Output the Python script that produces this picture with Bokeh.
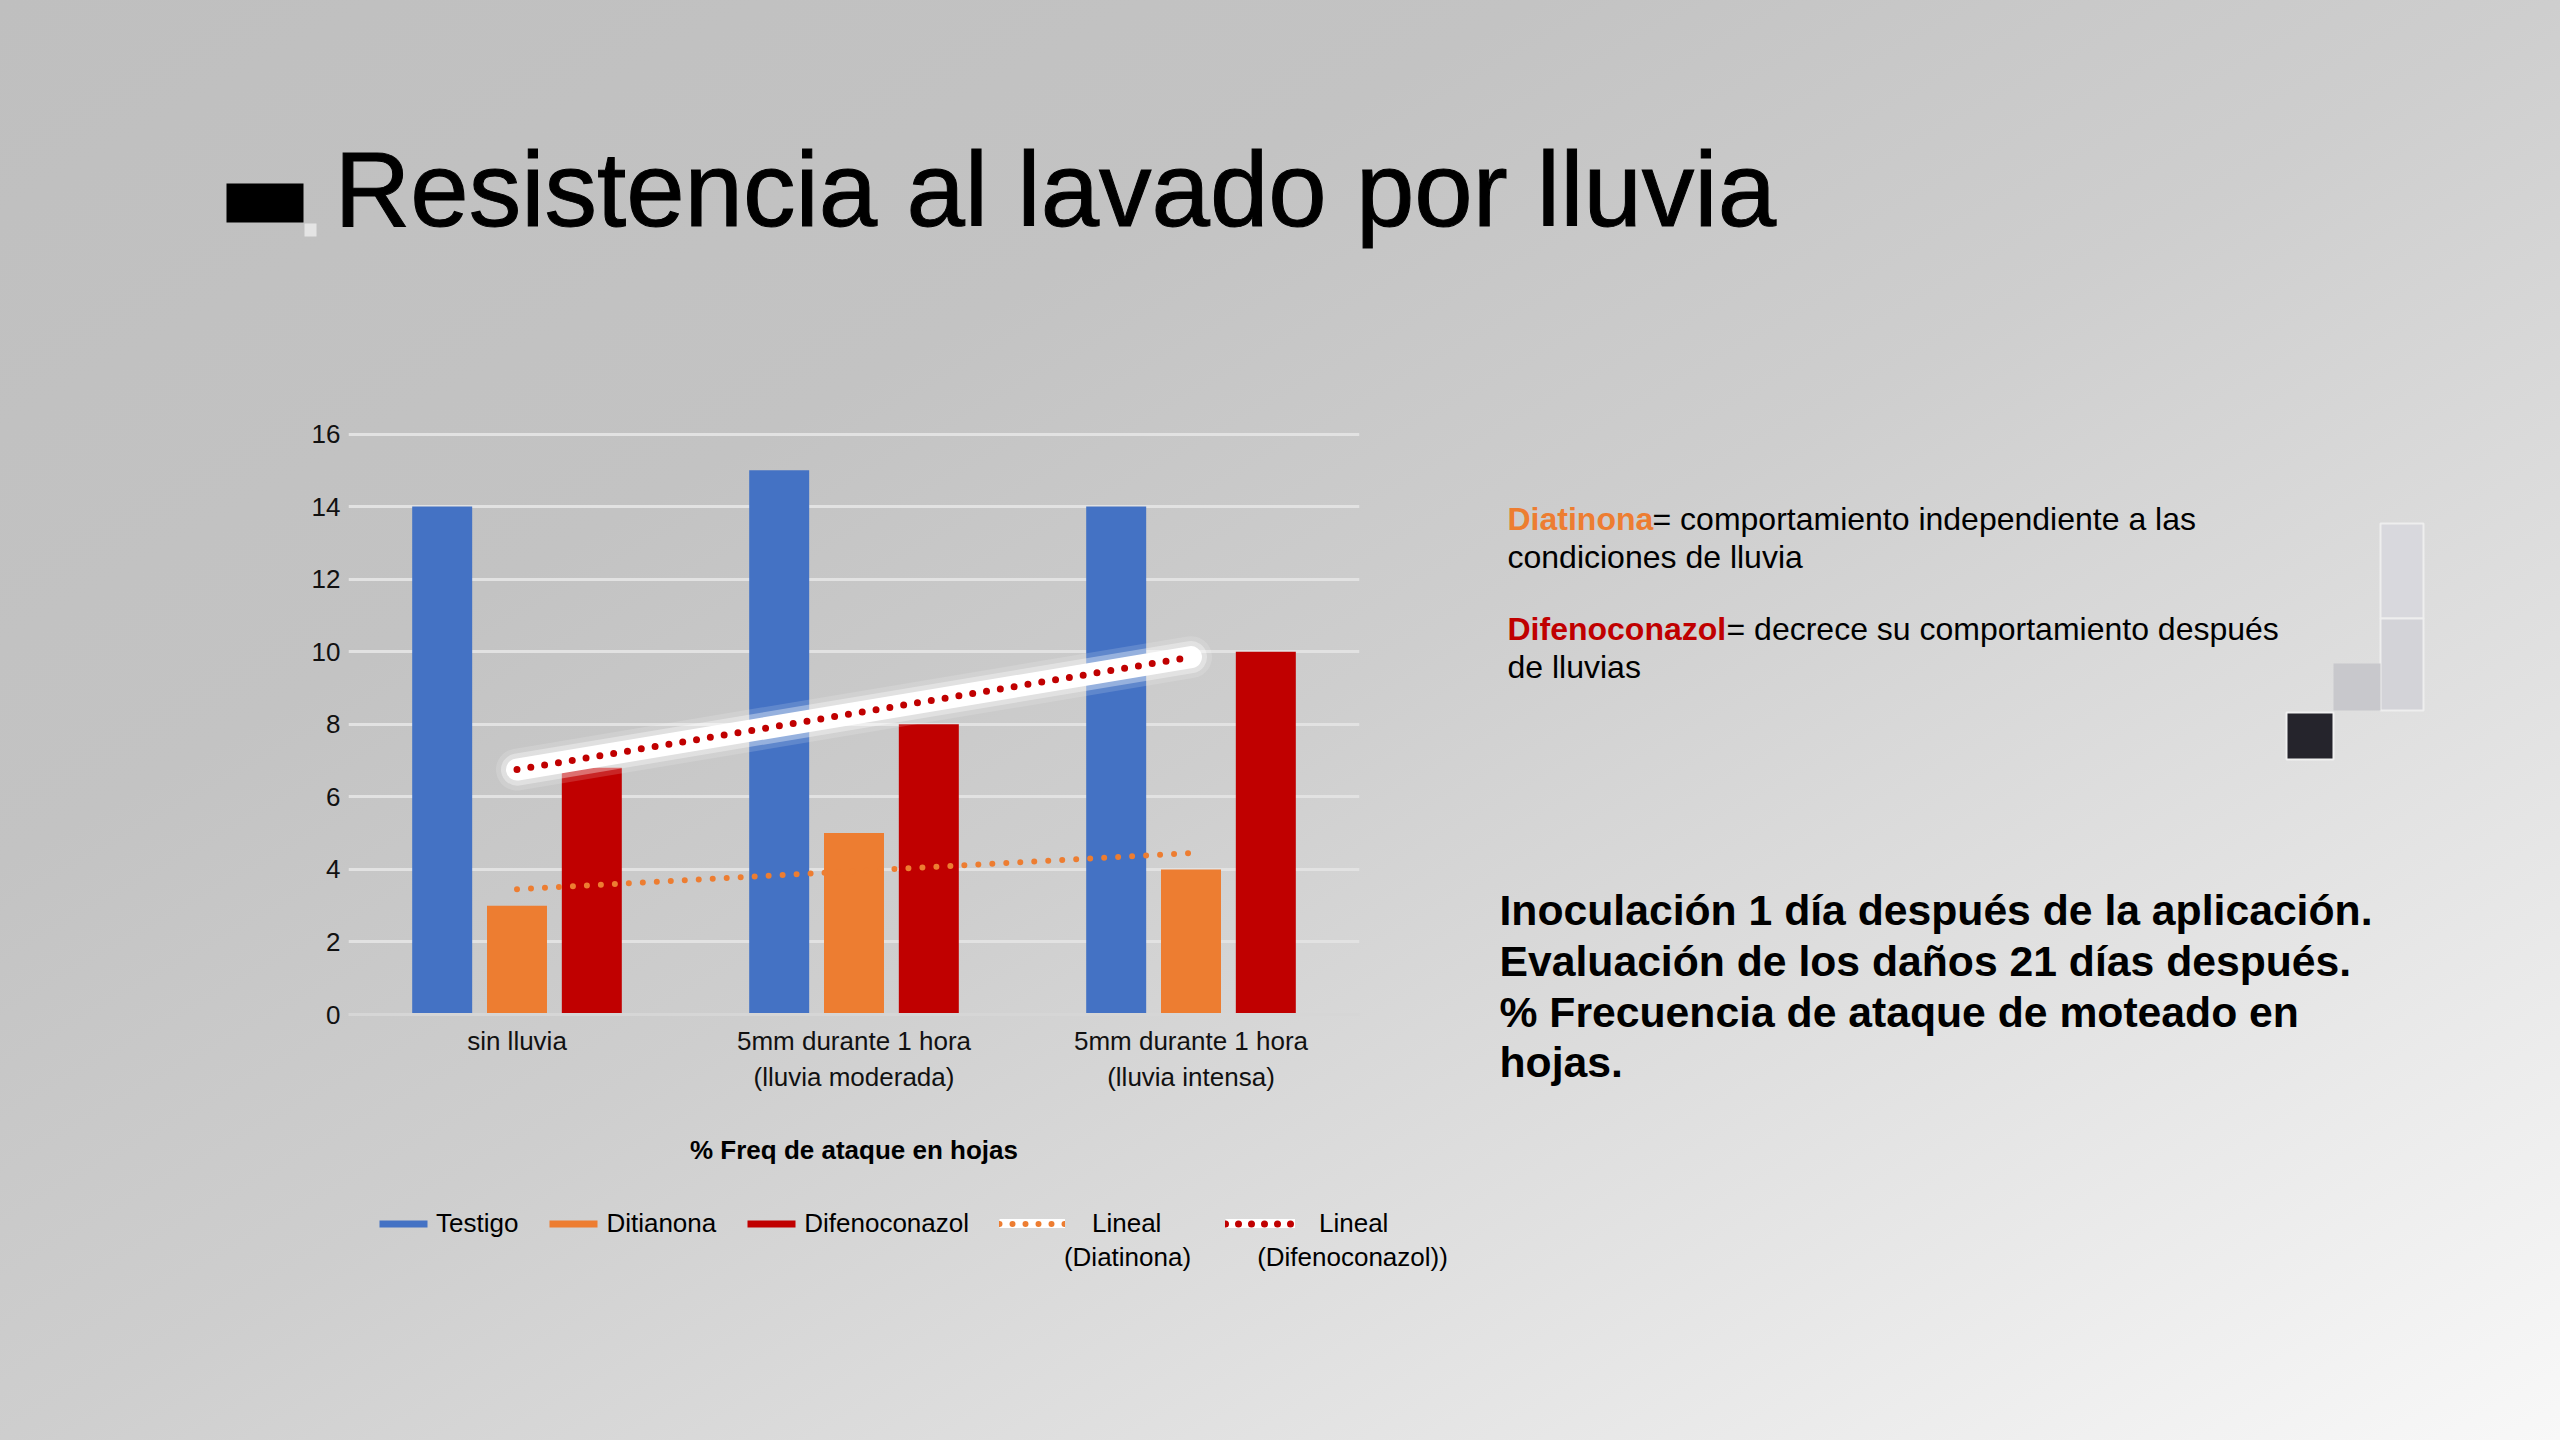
from bokeh.plotting import figure
from bokeh.layouts import column, row
from bokeh.models import (ColumnDataSource, Label, Legend, LegendItem,
                          Range1d, FactorRange)
from bokeh.transform import dodge
from bokeh.embed import file_html
from bokeh.resources import INLINE

# datos
categorias = ["sin lluvia",
              "5mm durante 1 hora\n(lluvia moderada)",
              "5mm durante 1 hora\n(lluvia intensa)"]
testigo = [14, 15, 14]
ditianona = [3, 5, 4]
difenoconazol = [6.8, 8, 10]
# extremos de las lineas de tendencia (primera y ultima categoria)
tend_ditianona = [3.45, 4.45]
tend_difenoconazol = [6.75, 9.85]
y_ticks = [0, 2, 4, 6, 8, 10, 12, 14, 16]

AZUL = "#4472c4"
NARANJA = "#ed7d31"
ROJO = "#c00000"
FUENTE = "Liberation Sans"
NAN = float("nan")

W, H = 2560, 1440
H_TOP = 400      # franja del titulo
Y_LEY = 1200     # inicio de la franja de la leyenda
W_CHART = 1490


def lienzo(x0, x1, y0, y1):
    # figura sin ejes cuyo marco ocupa toda el area; coordenadas = pixeles de pagina
    f = figure(width=x1 - x0, height=y1 - y0,
               x_range=Range1d(x0, x1), y_range=Range1d(y1, y0),
               x_axis_location=None, y_axis_location=None,
               output_backend="svg", toolbar_location=None, min_border=0,
               frame_align=False)
    f.background_fill_alpha = 0
    f.border_fill_alpha = 0
    f.outline_line_color = None
    f.grid.visible = False
    return f


def texto(f, x, y, t, size, color="black", bold=False, align="left", **kw):
    # y = centro visual de la linea
    f.add_layout(Label(x=x, y=y, text=t, text_font=FUENTE, text_font_size=f"{size}px",
                       text_color=color, text_font_style="bold" if bold else "normal",
                       text_baseline="alphabetic", text_align=align, **kw))


# ---------- titulo ----------
top = lienzo(0, W, 0, H_TOP)
top.quad(left=[226], right=[303], top=[183], bottom=[222], fill_color="black", line_color=None)
top.quad(left=[304], right=[316], top=[223], bottom=[236], fill_color="#ececec",
         fill_alpha=0.8, line_color=None)
texto(top, 334, 189, "Resistencia al lavado por lluvia", 105, text_outline_color="black")

# ---------- grafico ----------
p = figure(width=W_CHART, height=Y_LEY - H_TOP,
           x_range=FactorRange(*categorias), y_range=Range1d(0, 16.4),
           output_backend="svg", toolbar_location=None, frame_align=False,
           min_border_left=348, min_border_right=W_CHART - 1359,
           min_border_top=19, min_border_bottom=Y_LEY - 1014)
p.background_fill_alpha = 0
p.border_fill_alpha = 0
p.outline_line_color = None

p.xgrid.grid_line_color = None
p.ygrid.ticker = y_ticks
p.ygrid.grid_line_color = "#e2e2e2"
p.ygrid.grid_line_width = 3

p.yaxis.ticker = y_ticks
p.yaxis.axis_line_color = None
p.yaxis.major_tick_line_color = None
p.yaxis.minor_tick_line_color = None
p.yaxis.major_tick_out = 0
p.yaxis.major_label_standoff = 8
p.yaxis.major_label_text_font = FUENTE
p.yaxis.major_label_text_font_size = "26px"
p.yaxis.major_label_text_color = "#111111"

p.xaxis.axis_line_color = "#d6d6d6"
p.xaxis.axis_line_width = 3
p.xaxis.major_tick_line_color = None
p.xaxis.major_tick_out = 0
p.xaxis.major_label_standoff = 11
p.xaxis.major_label_text_font = FUENTE
p.xaxis.major_label_text_font_size = "26px"
p.xaxis.major_label_text_color = "#111111"
p.xaxis.axis_label = "% Freq de ataque en hojas"
p.xaxis.axis_label_text_font = FUENTE
p.xaxis.axis_label_text_font_size = "26px"
p.xaxis.axis_label_text_font_style = "bold"
p.xaxis.axis_label_text_color = "black"
p.xaxis.axis_label_standoff = 40

src = ColumnDataSource(dict(cat=categorias, testigo=testigo,
                            ditianona=ditianona, difenoconazol=difenoconazol))
p.vbar(x=dodge("cat", -0.222, range=p.x_range), top="testigo", width=0.178,
       source=src, fill_color=AZUL, line_color=None)
p.vbar(x=dodge("cat", 0.0, range=p.x_range), top="ditianona", width=0.178,
       source=src, fill_color=NARANJA, line_color=None)
p.vbar(x=dodge("cat", 0.222, range=p.x_range), top="difenoconazol", width=0.178,
       source=src, fill_color=ROJO, line_color=None)

src_t = ColumnDataSource(dict(cat=[categorias[0], categorias[-1]],
                              dit=tend_ditianona, dif=tend_difenoconazol))
p.line("cat", "dit", source=src_t, line_color=NARANJA, line_width=6,
       line_dash="0 14", line_cap="round")
# halo blanco de la tendencia de Difenoconazol
for w, a in [(42, 0.15), (32, 0.35), (22, 1.0)]:
    p.line("cat", "dif", source=src_t, line_color="white", line_width=w,
           line_alpha=a, line_cap="round")
p.line("cat", "dif", source=src_t, line_color=ROJO, line_width=7,
       line_dash="0 14", line_cap="round")

# ---------- leyenda ----------
ley = lienzo(0, W_CHART, Y_LEY, H)
vacio = dict(x=[NAN, NAN], y=[NAN, NAN])
i_t = ley.vbar(x=[NAN], top=[NAN], width=1, fill_color=AZUL, line_color=None)
i_d = ley.vbar(x=[NAN], top=[NAN], width=1, fill_color=NARANJA, line_color=None)
i_f = ley.vbar(x=[NAN], top=[NAN], width=1, fill_color=ROJO, line_color=None)
b_dit = ley.line(x="x", y="y", source=ColumnDataSource(vacio), line_color="white", line_width=20)
i_dit = ley.line(x="x", y="y", source=ColumnDataSource(vacio), line_color=NARANJA,
                 line_width=6, line_dash="0 13", line_cap="round")
b_dif = ley.line(x="x", y="y", source=ColumnDataSource(vacio), line_color="white", line_width=20)
i_dif = ley.line(x="x", y="y", source=ColumnDataSource(vacio), line_color=ROJO,
                 line_width=7, line_dash="0 13", line_cap="round")

estilo = dict(orientation="horizontal", glyph_height=9, label_height=32,
              padding=0, margin=0, background_fill_alpha=0, border_line_alpha=0,
              label_text_font=FUENTE, label_text_font_size="26px", label_text_color="black")
ley.add_layout(Legend(items=[LegendItem(label="Testigo", renderers=[i_t]),
                             LegendItem(label="Ditianona", renderers=[i_d]),
                             LegendItem(label="Difenoconazol", renderers=[i_f])],
                      location=(373, 201), glyph_width=60, label_standoff=3, spacing=25,
                      **estilo))
ley.add_layout(Legend(items=[LegendItem(label="Lineal", renderers=[b_dit, i_dit])],
                      location=(999, 201), glyph_width=66, label_standoff=27, **estilo))
ley.add_layout(Legend(items=[LegendItem(label="Lineal", renderers=[b_dif, i_dif])],
                      location=(1225, 201), glyph_width=70, label_standoff=24, **estilo))
texto(ley, 1127, 1256, "(Diatinona)", 26, align="center")
texto(ley, 1352, 1256, "(Difenoconazol))", 26, align="center")

# ---------- comentarios ----------
txt = lienzo(W_CHART, W, H_TOP, H)
texto(txt, 1507, 518, "Diatinona", 32, NARANJA, True)
texto(txt, 1652, 518, "= comportamiento independiente a las", 32)
texto(txt, 1507, 556, "condiciones de lluvia", 32)
texto(txt, 1507, 628, "Difenoconazol", 32, ROJO, True)
texto(txt, 1726, 628, "= decrece su comportamiento después", 32)
texto(txt, 1507, 666, "de lluvias", 32)

texto(txt, 1499, 909, "Inoculación 1 día después de la aplicación.", 42.7, bold=True)
texto(txt, 1499, 960, "Evaluación de los daños 21 días después.", 42.7, bold=True)
texto(txt, 1499, 1011, "% Frecuencia de ataque de moteado en", 42.7, bold=True)
texto(txt, 1499, 1061, "hojas.", 42.7, bold=True)

# cuadros decorativos
txt.quad(left=[2380, 2380, 2333, 2286], right=[2423, 2423, 2380, 2333],
         top=[523, 618, 663, 712], bottom=[618, 710, 710, 759],
         fill_color=["#d8d8dd", "#d3d3d8", "#c8c8cc", "#25242c"],
         line_color=["#eeeeee", "#eeeeee", None, "#f0f0f0"], line_width=2)

page = column(top, row(column(p, ley, spacing=0), txt, spacing=0), spacing=0,
              styles={"background": "linear-gradient(to bottom right, #bfbfbf 0%, #c3c3c3 30%, "
                                    "#cecece 50%, #e0e0e0 72%, #f8f8f8 100%)"})

open("out.html", "w").write(file_html(page, INLINE))
